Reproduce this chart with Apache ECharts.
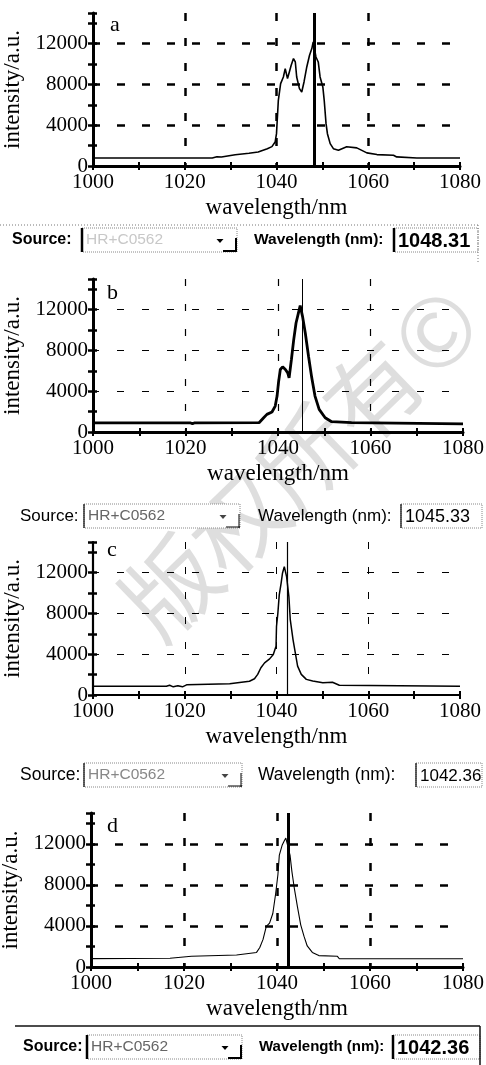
<!DOCTYPE html>
<html><head><meta charset="utf-8">
<script src="https://cdn.jsdelivr.net/npm/echarts@6/dist/echarts.min.js"></script>
<style>html,body{margin:0;padding:0;background:#fff;}#c{width:486px;height:1065px;}</style>
</head><body><div id="c"></div>
<script>
// ---- data ----
const panelLetters = ['a', 'b', 'c', 'd'];
const markerWaves = [1048.31, 1045.33, 1042.36, 1042.36];
const sourceName = 'HR+C0562';

const waveA = [1000, 1010, 1020, 1026, 1027, 1028, 1031, 1034, 1036, 1038, 1039, 1039.7, 1040.0, 1040.4, 1040.9, 1041.5, 1041.9, 1042.4, 1042.8, 1043.2, 1043.7, 1044.1, 1044.4, 1045.0, 1045.5, 1046.0, 1046.6, 1047.2, 1047.7, 1048.0, 1048.6, 1049.1, 1049.5, 1050.1, 1050.4, 1050.8, 1051.1, 1051.7, 1052.4, 1053.5, 1055.3, 1057.5, 1059.7, 1061.9, 1065.5, 1066.2, 1070.6, 1080];
const intA  = [780, 780, 780, 790, 900, 880, 1110, 1250, 1370, 1700, 1900, 2350, 3170, 6440, 8080, 8730, 9550, 8570, 9220, 9880, 10530, 10200, 8730, 7590, 7260, 8240, 9710, 10860, 11510, 12160, 10690, 10200, 8730, 7750, 6440, 4150, 3170, 2190, 1700, 1540, 1880, 1780, 1290, 1120, 1060, 890, 790, 790];

const waveB = [1000, 1014, 1014.4, 1015, 1021, 1021.5, 1022, 1035.9, 1036.9, 1037.6, 1038.7, 1039.4, 1039.8, 1040.1, 1040.5, 1041.0, 1041.6, 1042.1, 1042.4, 1042.9, 1043.4, 1043.9, 1044.5, 1044.8, 1045.3, 1045.9, 1046.6, 1047.3, 1048.0, 1048.9, 1050.2, 1051.6, 1055.9, 1056.3, 1080];
const intB  = [900, 900, 800, 900, 900, 800, 900, 910, 1400, 1730, 1960, 2540, 3520, 4820, 6130, 6390, 6130, 5800, 5310, 7110, 9060, 10690, 11830, 12390, 11340, 9710, 7430, 5310, 3520, 2220, 1400, 1010, 910, 800, 800];

const waveC = [1000, 1016, 1016.7, 1017.5, 1018.5, 1019.5, 1020.4, 1029.8, 1030.1, 1034.1, 1035.2, 1035.9, 1036.6, 1037.4, 1038.5, 1039.3, 1039.9, 1040.0, 1040.3, 1040.6, 1041.0, 1041.3, 1041.7, 1042.2, 1042.7, 1043.0, 1043.6, 1044.1, 1044.6, 1045.4, 1046.5, 1047.9, 1050.1, 1052.2, 1053.7, 1080];
const intC  = [850, 850, 950, 800, 900, 800, 1000, 1100, 1250, 1350, 1590, 2020, 2670, 3150, 3540, 3970, 4780, 6730, 8030, 9820, 10950, 11930, 12580, 11600, 9650, 7380, 5430, 4130, 2830, 2020, 1530, 1370, 1200, 1250, 950, 850];

const waveD = [1000, 1017, 1021.6, 1031.3, 1035.6, 1036.3, 1037.0, 1037.7, 1038.4, 1039.1, 1039.7, 1040.2, 1040.5, 1041.1, 1041.6, 1041.9, 1042.8, 1043.2, 1043.7, 1044.4, 1045.1, 1045.8, 1046.5, 1047.6, 1049.0, 1053.0, 1053.4, 1080];
const intD  = [820, 850, 1040, 1170, 1420, 1900, 2690, 3950, 4270, 5210, 7110, 9010, 10900, 11850, 12320, 12550, 10900, 9320, 7740, 5850, 4110, 3000, 2050, 1420, 1110, 1040, 800, 800];

const waves = [waveA, waveB, waveC, waveD];
const ints = [intA, intB, intC, intD];

// ---- layout / style ----
const SERIF = '"Liberation Serif","Times New Roman",serif';
const SANS = '"Liberation Sans",Arial,sans-serif';
const grids = [
  {left: 93, top: 13, width: 367, height: 153},
  {left: 93, top: 279, width: 370, height: 153},
  {left: 93, top: 542, width: 367, height: 153},
  {left: 91, top: 813, width: 372, height: 154}
];
const sty = [
  {curve: 1.6, marker: 3, grid: 2.5, axis: 3, dash: [8, 17]},
  {curve: 2.8, marker: 1, grid: 1.2, axis: 3, dash: [7, 18]},
  {curve: 1.5, marker: 1.2, grid: 1, axis: 2.2, dash: [7, 18]},
  {curve: 1.1, marker: 3, grid: 2.5, axis: 3, dash: [8, 17]}
];
const letterPos = [[110, 25], [107, 293], [107, 550], [107, 826]];
const plain = v => String(v);

const xAxes = [], yAxes = [], series = [];
grids.forEach((g, i) => {
  const s = sty[i];
  xAxes.push({
    gridIndex: i, type: 'value', min: 1000, max: 1080, interval: 20, position: 'bottom',
    axisLine: {show: true, onZero: false, lineStyle: {color: '#000', width: s.axis}},
    axisTick: {show: true, inside: false, length: 4, lineStyle: {color: '#000', width: 2}},
    minorTick: {show: true, splitNumber: 2, length: 4, lineStyle: {color: '#000', width: 2}},
    axisLabel: {color: '#000', fontFamily: SERIF, fontSize: 21, margin: 6, formatter: plain},
    splitLine: {show: true, showMinLine: false, showMaxLine: false,
      lineStyle: {color: '#000', width: s.grid, type: s.dash}},
    name: 'wavelength/nm', nameLocation: 'middle', nameGap: 30,
    nameTextStyle: {color: '#000', fontFamily: SERIF, fontSize: 23}
  });
  xAxes.push({
    gridIndex: i, type: 'value', min: 1000, max: 1080, interval: 10, position: 'bottom', offset: 0,
    axisLine: {show: false, onZero: false},
    axisTick: {show: true, inside: true, length: 4, lineStyle: {color: '#000', width: 2}},
    axisLabel: {show: false}, splitLine: {show: false}
  });
  yAxes.push({
    gridIndex: i, type: 'value', min: 0, max: 15000, interval: 4000, position: 'left',
    axisLine: {show: true, onZero: false, lineStyle: {color: '#000', width: s.axis}},
    axisTick: {show: false},
    axisLabel: {color: '#000', fontFamily: SERIF, fontSize: 21, margin: 5, showMaxLabel: false, formatter: plain},
    splitLine: {show: true, showMinLine: false, showMaxLine: false,
      lineStyle: {color: '#000', width: s.grid, type: s.dash, dashOffset: 1}},
    name: 'intensity/a.u.', nameLocation: 'middle', nameGap: 63, nameRotate: 90,
    nameTextStyle: {color: '#000', fontFamily: SERIF, fontSize: 23}
  });
  yAxes.push({
    gridIndex: i, type: 'value', min: 0, max: 15000, interval: 2000, position: 'left', offset: 0,
    axisLine: {show: false, onZero: false},
    axisTick: {show: true, inside: false, length: 5, lineStyle: {color: '#000', width: 2.5}},
    axisLabel: {show: false}, splitLine: {show: false}
  });
  yAxes.push({
    gridIndex: i, type: 'value', min: 0, max: 15000, interval: 2000, position: 'left', offset: 0,
    axisLine: {show: false, onZero: false},
    axisTick: {show: true, inside: true, length: 4, lineStyle: {color: '#000', width: 2.5}},
    axisLabel: {show: false}, splitLine: {show: false}
  });
  series.push({
    type: 'line', xAxisIndex: i * 2, yAxisIndex: i * 3,
    data: waves[i].map((w, k) => [w, ints[i][k]]),
    showSymbol: false, symbol: 'none', z: 3,
    lineStyle: {color: '#000', width: s.curve},
    markLine: {
      silent: true, symbol: 'none', animation: false,
      label: {show: false},
      lineStyle: {color: '#000', width: s.marker, type: 'solid'},
      data: [{xAxis: markerWaves[i]}]
    }
  });
});

// ---- graphic: panel letters, readout rows, watermark ----
const graphic = [];
graphic.push({
  type: 'text', x: 300, y: 462, rotation: 0.77, z: -10, silent: true,
  style: {text: '版权所有©', font: 'normal 94px "Noto Sans CJK SC"', fill: 'rgba(205,205,205,0.65)',
    align: 'center', verticalAlign: 'middle'}
});
panelLetters.forEach((L, i) => {
  graphic.push({type: 'text', x: letterPos[i][0], y: letterPos[i][1], z: 10,
    style: {text: L, font: '22px ' + SERIF, fill: '#000', align: 'left', verticalAlign: 'middle'}});
});

const rows = [
  {y: 240, bold: true, srcX: 12, box: [82, 237], wlX: 254, vbox: [394, 478], srcFill: '#c8c8c8', lab: 15.5, val: 20},
  {y: 516, bold: false, srcX: 20, box: [84, 240], wlX: 258, vbox: [401, 482], srcFill: '#666', lab: 17, val: 18},
  {y: 775, bold: false, srcX: 20, box: [84, 242], wlX: 258, vbox: [416, 482], srcFill: '#888', lab: 17.5, val: 17},
  {y: 1047, bold: true, srcX: 23, box: [87, 242], wlX: 259, vbox: [393, 480], srcFill: '#666', lab: 15, val: 20}
];
rows.forEach((r, i) => {
  const w = r.bold ? 'bold ' : '';
  const h = 24, top = r.y - h / 2;
  graphic.push({type: 'text', x: r.srcX, y: r.y, style: {text: 'Source:', font: w + (r.bold ? 16 : r.lab) + 'px ' + SANS, fill: '#000', verticalAlign: 'middle'}});
  graphic.push({type: 'rect', shape: {x: r.box[0], y: top, width: r.box[1] - r.box[0], height: h},
    style: {fill: '#fff', stroke: '#888', lineWidth: 1, lineDash: [1, 1]}});
  graphic.push({type: 'line', shape: {x1: r.box[0], y1: top, x2: r.box[0], y2: top + h}, style: {stroke: '#000', lineWidth: r.bold ? 2.5 : 1.2}});
  graphic.push({type: 'line', shape: {x1: r.box[1] - 1, y1: r.y - 2, x2: r.box[1] - 1, y2: top + h}, style: {stroke: '#000', lineWidth: r.bold ? 2 : 1}});
  graphic.push({type: 'line', shape: {x1: r.box[1] - 14, y1: top + h - 1, x2: r.box[1], y2: top + h - 1}, style: {stroke: '#000', lineWidth: r.bold ? 2 : 1}});
  graphic.push({type: 'text', x: r.box[0] + 4, y: r.y, style: {text: sourceName, font: '15.5px ' + SANS, fill: r.srcFill, verticalAlign: 'middle'}});
  const ax = r.box[1] - 17;
  graphic.push({type: 'polygon', shape: {points: [[ax - 3.5, r.y - 1], [ax + 3.5, r.y - 1], [ax, r.y + 3]]}, style: {fill: r.bold ? '#000' : '#444'}});
  graphic.push({type: 'text', x: r.wlX, y: r.y, style: {text: 'Wavelength (nm):', font: w + r.lab + 'px ' + SANS, fill: '#000', verticalAlign: 'middle'}});
  graphic.push({type: 'rect', shape: {x: r.vbox[0], y: top, width: r.vbox[1] - r.vbox[0], height: h},
    style: {fill: '#fff', stroke: '#888', lineWidth: 1, lineDash: [1, 1]}});
  graphic.push({type: 'line', shape: {x1: r.vbox[0], y1: top, x2: r.vbox[0], y2: top + h}, style: {stroke: '#000', lineWidth: r.bold ? 2.5 : 1.2}});
  graphic.push({type: 'text', x: r.vbox[0] + 4, y: r.y + 1, style: {text: markerWaves[i].toFixed(2), font: w + r.val + 'px ' + SANS, fill: '#000', verticalAlign: 'middle'}});
});
// separators
graphic.push({type: 'line', shape: {x1: 0, y1: 225, x2: 478, y2: 225}, style: {stroke: '#777', lineWidth: 1, lineDash: [1, 2]}});
graphic.push({type: 'line', shape: {x1: 478, y1: 225, x2: 478, y2: 262}, style: {stroke: '#777', lineWidth: 1, lineDash: [1, 2]}});
graphic.push({type: 'line', shape: {x1: 15, y1: 1026, x2: 480, y2: 1026}, style: {stroke: '#111', lineWidth: 1.5}});
graphic.push({type: 'line', shape: {x1: 480, y1: 1026, x2: 480, y2: 1065}, style: {stroke: '#111', lineWidth: 1.5}});

const chart = echarts.init(document.getElementById('c'), null, {renderer: 'canvas'});
chart.setOption({
  animation: false,
  backgroundColor: '#fff',
  grid: grids.map(g => Object.assign({containLabel: false, outerBoundsMode: 'none'}, g)),
  xAxis: xAxes,
  yAxis: yAxes,
  series: series,
  graphic: graphic
});
</script>
</body></html>
